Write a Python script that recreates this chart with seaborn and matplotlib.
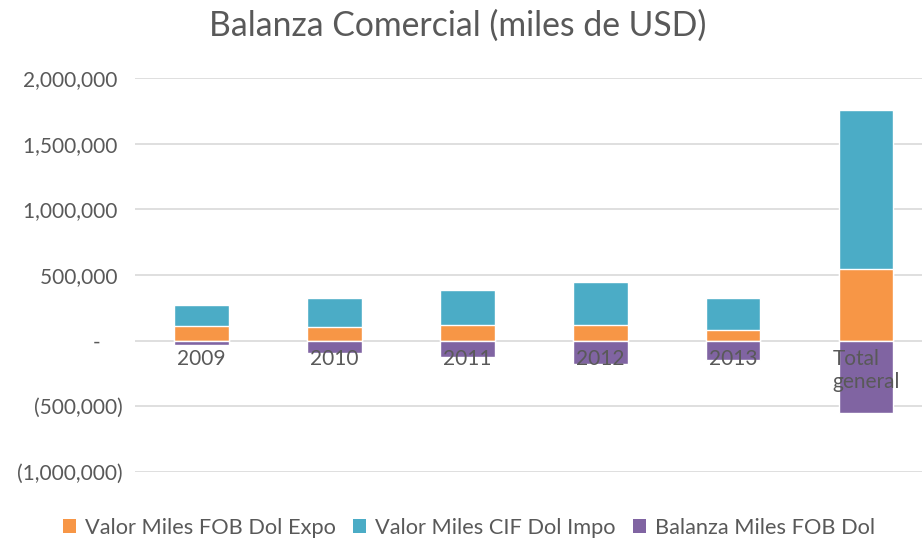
import matplotlib
matplotlib.use("Agg")
import matplotlib.pyplot as plt
from matplotlib.patches import Patch
from matplotlib.ticker import FuncFormatter, MultipleLocator
import seaborn as sns
import numpy as np

# Datos (miles de USD)
categorias = ["2009", "2010", "2011", "2012", "2013", "Total\ngeneral"]
expo = [112000, 104000, 119000, 119000, 81000, 546000]
impo = [160000, 221000, 267000, 328000, 244000, 1210000]
balanza = [-30000, -91000, -122000, -175000, -145000, -548000]

series = ["Valor Miles FOB Dol Expo", "Valor Miles CIF Dol Impo", "Balanza Miles FOB Dol"]
colores = ["#F79646", "#4BACC6", "#8064A2"]
gris = "#595959"

sns.set_theme(style="white")
plt.rcParams["font.family"] = ["Lato", "DejaVu Sans"]

fig = plt.figure(figsize=(9.22, 5.39), dpi=100)
ax = fig.add_axes([135 / 922, 1 - 472 / 539, 1 - 135 / 922, (472 - 78) / 539])

# barras apiladas: primero el total (expo + impo), luego expo encima
tope = np.array(expo) + np.array(impo)
sns.barplot(x=categorias, y=tope, color=colores[1], width=0.41, saturation=1, ax=ax, zorder=2)
sns.barplot(x=categorias, y=expo, color=colores[0], width=0.41, saturation=1, ax=ax, zorder=2)
sns.barplot(x=categorias, y=balanza, color=colores[2], width=0.41, saturation=1, ax=ax, zorder=2)

ax.set_ylim(-1000000, 2000000)
ax.set_xlim(-0.5, 5.42)
ax.yaxis.set_major_locator(MultipleLocator(500000))


def formato(v, pos):
    if abs(v) < 1:
        return "-    "
    if v < 0:
        return f"({abs(v):,.0f})"
    return f"{v:,.0f} "


ax.yaxis.set_major_formatter(FuncFormatter(formato))
ax.set_axisbelow(True)
ax.grid(axis="y", color="#D9D9D9", linewidth=1.2)
ax.grid(axis="x", visible=False)
for s in ax.spines.values():
    s.set_visible(False)
ax.tick_params(axis="y", length=0, pad=9, labelsize=15, labelcolor=gris)
ax.set_xticks([])
ax.set_xlabel("")
ax.set_ylabel("")

# etiquetas de categoria junto al eje (sobre las barras)
for i, cat in enumerate(categorias):
    ax.annotate(cat, (i, 0), xytext=(0, -6), textcoords="offset points",
                ha="center", va="top", fontsize=15, color=gris,
                multialignment="left", zorder=5)

fig.text(0.4967, 1 - 36 / 539, "Balanza Comercial (miles de USD)", ha="center",
         va="baseline", fontsize=24.3, color=gris)

handles = [Patch(facecolor=c, edgecolor="none") for c in colores]
fig.legend(handles, series, loc="center", bbox_to_anchor=(469 / 922, 1 - 528 / 539), ncol=3,
           frameon=False, fontsize=15.7, labelcolor=gris, handlelength=0.6,
           handleheight=0.6, handletextpad=0.41, columnspacing=0.78)

fig.savefig("out.png", dpi=100)
